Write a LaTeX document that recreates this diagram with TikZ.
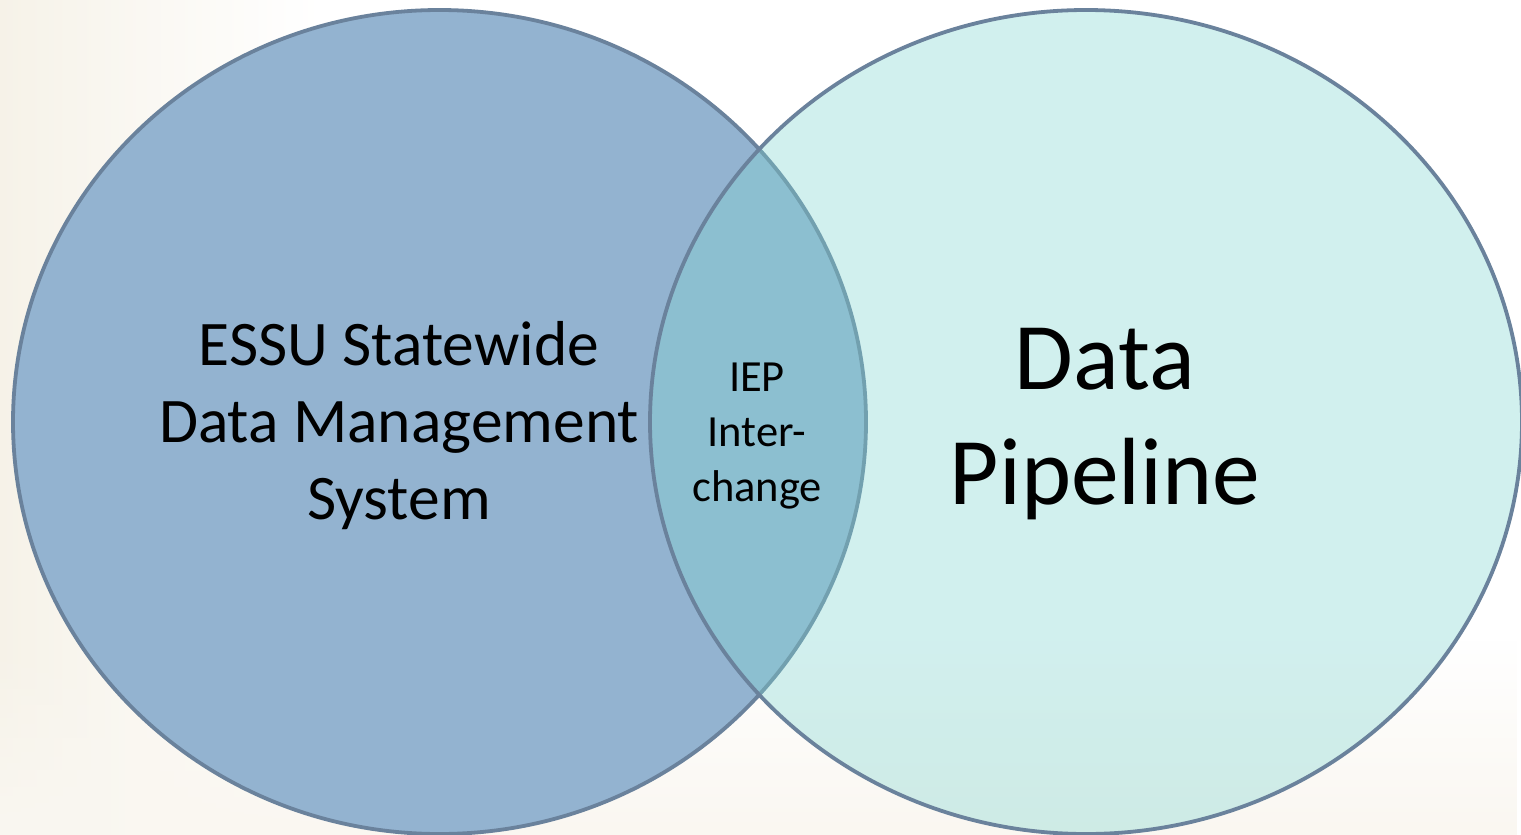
\documentclass[tikz,border=0pt]{standalone}
\usepackage{fontspec}
\setmainfont{Carlito}
\usetikzlibrary{shapes.geometric,fadings}
\definecolor{bgbeige}{RGB}{246,242,232}
\definecolor{leftfill}{RGB}{147,179,208}
\definecolor{rightfill}{RGB}{130,214,210}
\definecolor{edge}{RGB}{106,130,156}
\tikzset{
  setcircle/.style={ellipse, draw=edge, line width=3.8pt, inner sep=0pt},
  lbl/.style={align=center, text=black, inner sep=0pt}
}
\begin{document}
\begin{tikzpicture}[x=1pt,y=-1pt]
\useasboundingbox (0,0) rectangle (1521,835);
\fill[white] (0,0) rectangle (1521,835);
\shade[left color=bgbeige, right color=white, shading angle=90] (0,0) rectangle (320,835);
\fill[bgbeige!60, path fading=north] (0,640) rectangle (1521,835);
\node[setcircle, fill=leftfill, minimum width=853pt, minimum height=824pt] (essu) at (439.5,422) {};
\node[ellipse, fill=rightfill, fill opacity=0.36, minimum width=872pt, minimum height=824pt, inner sep=0pt] (pipefill) at (1086,422) {};
\node[setcircle, minimum width=872pt, minimum height=824pt] (pipe) at (1086,422) {};
\node[lbl, font=\fontsize{63.5}{77}\selectfont] (essutxt) at (399,426) {ESSU Statewide\\Data Management\\System};
\node[lbl, font=\fontsize{44.5}{55}\selectfont] (ieptxt) at (757,436) {IEP\\Inter-\\change};
\node[lbl, font=\fontsize{95.5}{115}\selectfont] (pipetxt) at (1105,424) {Data\\Pipeline};
\end{tikzpicture}
\end{document}
